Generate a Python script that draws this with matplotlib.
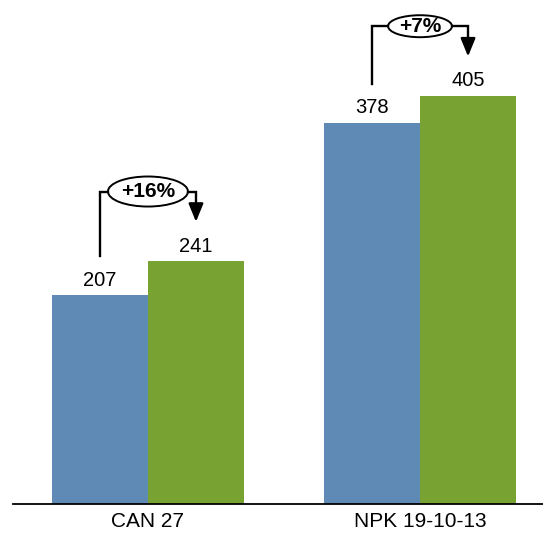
import matplotlib.pyplot as plt
from matplotlib.patches import Ellipse

plt.rcParams['font.family'] = ['Liberation Sans', 'DejaVu Sans']

# Data
products = ['CAN 27', 'NPK 19-10-13']
before = [207, 378]
after = [241, 405]
changes = ['+16%', '+7%']

blue = '#5F8AB5'
green = '#78A232'

fig = plt.figure(figsize=(5.43, 5.38), dpi=100)
ax = fig.add_axes([13 / 543, 34 / 538, 530 / 543, 504 / 538])

bar_width = 0.353
x = range(len(products))
xb = [p - bar_width / 2 for p in x]
xg = [p + bar_width / 2 for p in x]
ax.bar(xb, before, width=bar_width, color=blue)
ax.bar(xg, after, width=bar_width, color=green)

# value labels
for xs, vals in ((xb, before), (xg, after)):
    for xi, v in zip(xs, vals):
        ax.annotate(str(v), (xi, v), xytext=(0, 4), textcoords='offset points',
                    ha='center', va='bottom', fontsize=14.5)

# change brackets
ell_sizes = [(0.294, 29.8), (0.235, 21.8)]
for i, (b, a, c) in enumerate(zip(before, after, changes)):
    top = max(b, a) + 69
    start = b + 39
    tip = a + 39
    ew, eh = ell_sizes[i]
    ax.plot([xb[i], xb[i], i - ew / 2], [start, top, top], color='black', lw=1.7,
            solid_joinstyle='miter')
    ax.plot([i + ew / 2, xg[i], xg[i]], [top, top, tip + 14], color='black', lw=1.7,
            solid_joinstyle='miter')
    ax.annotate('', xy=(xg[i], tip), xytext=(xg[i], tip + 18),
                arrowprops=dict(arrowstyle='-|>,head_length=1.1,head_width=0.45',
                                color='black', lw=1.7, shrinkA=0, shrinkB=0))
    ax.add_patch(Ellipse((i, top), ew, eh, facecolor='white', edgecolor='black', lw=1.4))
    ax.text(i, top, c, ha='center', va='center', fontsize=15, fontweight='bold')

ax.set_xlim(-0.496, 1.452)
ax.set_ylim(0, 500)
ax.set_xticks(list(x))
ax.set_xticklabels(products, fontsize=15)
ax.tick_params(axis='x', length=0, pad=6)
ax.set_yticks([])
for s in ['top', 'right', 'left']:
    ax.spines[s].set_visible(False)
ax.spines['bottom'].set_linewidth(1.3)

fig.savefig('out.png', dpi=100)
